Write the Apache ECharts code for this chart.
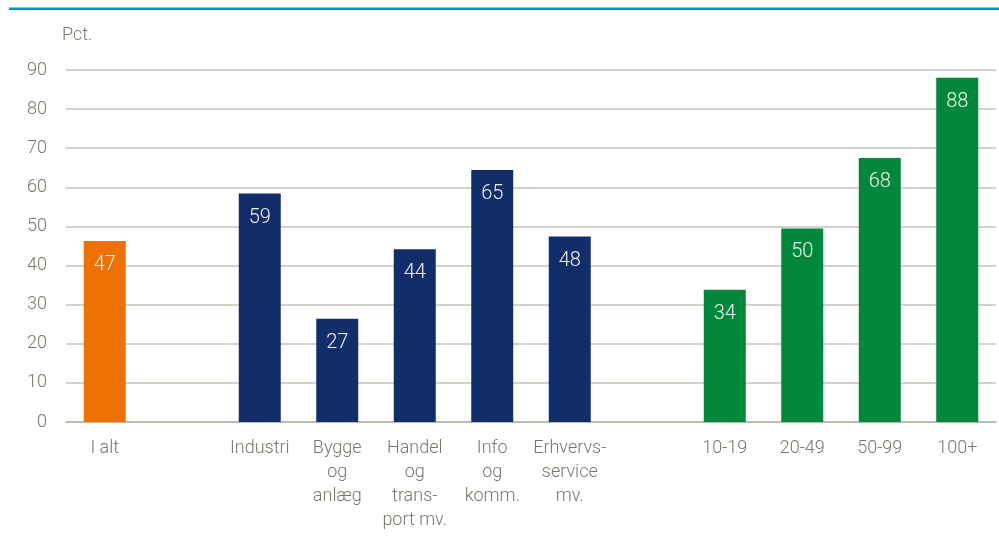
<!DOCTYPE html>
<html>
<head>
<meta charset="utf-8">
<script src="https://cdn.jsdelivr.net/npm/echarts@6/dist/echarts.min.js"></script>
<style>
  html, body { margin: 0; padding: 0; background: #ffffff; }
  #chart { width: 999px; height: 541px; }
</style>
</head>
<body>
<div id="chart"></div>
<script>
// categories ('' = empty spacer slot)
const categories = [
  'I alt', '',
  'Industri', 'Bygge\nog\nanlæg', 'Handel\nog\ntrans-\nport mv.', 'Info\nog\nkomm.', 'Erhvervs-\nservice\nmv.',
  '',
  '10-19', '20-49', '50-99', '100+'
]
// bar heights
const values = [46.3, null, 58.4, 26.4, 44.2, 64.4, 47.4, null, 33.8, 49.5, 67.5, 88.0]
// printed value labels
const valueLabels = ['47', '', '59', '27', '44', '65', '48', '', '34', '50', '68', '88']
// which group each bar belongs to
const groups = ['total', '', 'sector', 'sector', 'sector', 'sector', 'sector', '', 'size', 'size', 'size', 'size']
const yTicks = [0, 10, 20, 30, 40, 50, 60, 70, 80, 90]

const groupColors = {
  total: '#ee7203',
  sector: '#112d6a',
  size: '#00873c'
}

const fontFamily = "Roboto, 'Liberation Sans', sans-serif"
const textColor = '#77776b'

const chart = echarts.init(document.getElementById('chart'))

chart.setOption({
  animation: false,
  backgroundColor: '#ffffff',
  graphic: [
    {
      type: 'rect',
      shape: { x: 9, y: 7.5, width: 990, height: 2.5 },
      style: { fill: '#0092d2' }
    },
    {
      type: 'text',
      left: 62,
      top: 26,
      style: {
        text: 'Pct.',
        fill: textColor,
        font: `300 18px ${fontFamily}`
      }
    }
  ],
  grid: {
    left: 66,
    right: 3,
    top: 70,
    bottom: 119
  },
  xAxis: {
    type: 'category',
    data: categories,
    axisTick: { show: false },
    axisLine: {
      lineStyle: { color: '#b4b4a8', width: 1.5 }
    },
    axisLabel: {
      interval: 0,
      margin: 14,
      color: textColor,
      fontFamily,
      fontWeight: 300,
      fontSize: 18,
      lineHeight: 24
    }
  },
  yAxis: {
    type: 'value',
    min: yTicks[0],
    max: yTicks[yTicks.length - 1],
    interval: 10,
    axisLine: { show: false },
    axisTick: { show: false },
    axisLabel: {
      margin: 19,
      color: textColor,
      fontFamily,
      fontWeight: 300,
      fontSize: 18
    },
    splitLine: {
      lineStyle: { color: '#c4c4b8', width: 1.5 }
    }
  },
  series: [
    {
      type: 'bar',
      barWidth: 42,
      data: values.map((v, i) => ({
        value: v === null ? '-' : v,
        itemStyle: { color: groupColors[groups[i]] || 'transparent' }
      })),
      label: {
        show: true,
        position: 'insideTop',
        distance: 14,
        color: '#f2f2ee',
        fontFamily,
        fontWeight: 300,
        fontSize: 20,
        formatter: (p) => valueLabels[p.dataIndex]
      }
    }
  ]
})
</script>
</body>
</html>
